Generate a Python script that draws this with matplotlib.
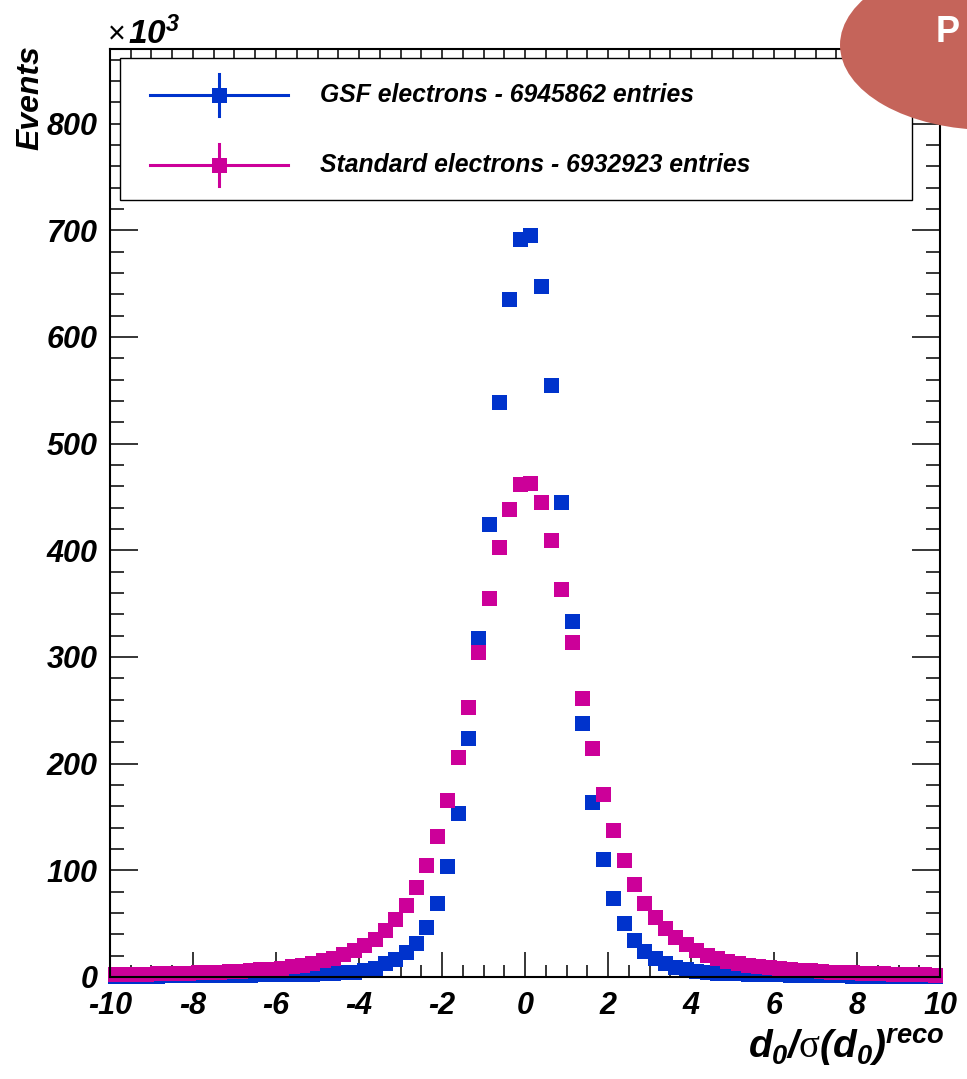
import matplotlib
matplotlib.use("Agg")
import matplotlib.pyplot as plt
import numpy as np
from matplotlib.patches import Ellipse, Rectangle
from matplotlib.ticker import MultipleLocator

# d0 significance, 80 bins from -10 to 10, counts in units of 10^3
bin_edges = np.linspace(-10, 10, 81)
gsf_counts_k = [
    1.0, 1.1, 1.2, 1.3, 1.4, 1.5, 1.6, 1.7, 1.8, 1.9,
    2.0, 2.1, 2.2, 2.3, 2.4, 2.5, 2.6, 2.7, 2.9, 3.1,
    3.4, 3.8, 4.3, 5.0, 6.8, 8.8, 12.7, 16.7, 23.7, 31.5,
    46.5, 69, 104, 154, 224, 318, 425, 539, 636, 692,
    696, 648, 555, 445, 334, 238, 164, 110.5, 74.5, 50.4,
    34.7, 24.4, 17.5, 13.3, 9.8, 7.5, 5.9, 4.8, 4.2, 3.7,
    3.3, 3.0, 2.8, 2.6, 2.4, 2.2, 2.0, 1.9, 1.8, 1.6,
    1.5, 1.4, 1.3, 1.2, 1.1, 1.0, 0.9, 0.8, 0.7, 0.6,
]
std_counts_k = [
    2.4, 2.6, 2.8, 3.0, 3.3, 3.5, 3.8, 4.1, 4.4, 4.7,
    5.1, 5.5, 6.0, 6.5, 7.1, 7.9, 8.9, 10.1, 11.6, 13.3,
    15.5, 18.0, 21.3, 25.4, 30, 36, 44, 54, 67.6, 84.5,
    105, 132, 166, 206, 253, 305, 355, 403, 439, 462,
    463, 445, 410, 364, 314, 262, 215, 172, 138, 110,
    87, 69, 56, 46, 37.6, 30.7, 25.4, 20.7, 17.6, 15.0,
    12.9, 11.4, 10.2, 9.2, 8.3, 7.5, 6.8, 6.2, 5.6, 5.1,
    4.7, 4.3, 4.0, 3.7, 3.4, 3.1, 2.9, 2.7, 2.5, 2.3,
]
series_labels = ["GSF electrons - 6945862 entries",
                 "Standard electrons - 6932923 entries"]
series_colors = ["#0033cc", "#cc0099"]

plt.rcParams["font.family"] = "Liberation Sans"
plt.rcParams["font.weight"] = "bold"
plt.rcParams["font.style"] = "italic"
plt.rcParams["axes.unicode_minus"] = False
plt.rcParams["mathtext.fontset"] = "custom"
plt.rcParams["mathtext.it"] = "Liberation Sans:style=italic:weight=bold"
plt.rcParams["mathtext.rm"] = "Liberation Sans:style=italic:weight=bold"
plt.rcParams["mathtext.bf"] = "Liberation Sans:style=italic:weight=bold"
plt.rcParams["mathtext.sf"] = "Liberation Serif:style=normal:weight=normal"

W, H = 967, 1079
fig = plt.figure(figsize=(W / 100, H / 100), dpi=100)
ax = fig.add_axes([110 / W, 1 - 977 / H, 830 / W, 928 / H])

centers = 0.5 * (bin_edges[:-1] + bin_edges[1:])
for counts, color in zip([gsf_counts_k, std_counts_k], series_colors):
    ax.plot(centers, counts, ls="none", marker="s", ms=10.8, mew=0,
            color=color, clip_on=False, zorder=2)

ax.set_xlim(-10, 10)
ax.set_ylim(0, 870)
ax.set_xticks(np.arange(-10, 11, 2))
ax.xaxis.set_minor_locator(MultipleLocator(0.5))
ax.set_yticks(np.arange(0, 801, 100))
ax.yaxis.set_minor_locator(MultipleLocator(20))
ax.tick_params(which="both", direction="in", top=True, right=True, width=1.1)
ax.tick_params(axis="x", which="major", length=18, pad=10, labelsize=22)
ax.tick_params(axis="x", which="minor", length=9)
ax.tick_params(axis="y", which="major", length=20, pad=9, labelsize=22)
ax.tick_params(axis="y", which="minor", length=10)
for sp in ax.spines.values():
    sp.set_linewidth(1.5)

# legend box drawn by hand, ROOT style
ax.add_patch(Rectangle((0.012, 0.837), 0.954, 0.153, transform=ax.transAxes,
                       facecolor="white", edgecolor="black", lw=1.0, zorder=5))
for ly, label, color in zip([0.950, 0.875], series_labels, series_colors):
    ax.plot([0.048, 0.2145], [ly, ly], transform=ax.transAxes, color=color,
            lw=2.2, zorder=6)
    ax.plot([0.131, 0.131], [ly - 0.0226, ly + 0.0226], transform=ax.transAxes,
            color=color, lw=2.2, zorder=6)
    ax.plot([0.131], [ly], transform=ax.transAxes, ls="none", marker="s",
            ms=10.8, mew=0, color=color, zorder=7)
    ax.text(0.253, ly, label, transform=ax.transAxes, fontsize=17.8,
            va="center", ha="left", zorder=7)

fig.text(30 / W, 1 - 45 / H, "Events", rotation=90, fontsize=23,
         ha="center", va="top")
fig.text(108 / W, 1 - 43 / H, "\u00d7", fontsize=22, style="normal",
         weight="normal", ha="left", va="baseline")
fig.text(128 / W, 1 - 44 / H, r"$10^{3}$", fontsize=24,
         ha="left", va="baseline")
fig.text(945 / W, 1 - 1048 / H,
         r"$d_{0}/\mathsf{\sigma}(d_{0})^{reco}$",
         fontsize=28, ha="right", va="center")

# badge in the top-right corner
fig.add_artist(Ellipse((990 / W, 1 - 45 / H), 300 / W, 170 / H,
                       transform=fig.transFigure, facecolor="#c5645a",
                       edgecolor="none", zorder=10))
fig.text(948 / W, 1 - 32 / H, "P", color="white", fontsize=26,
         style="normal", weight="bold", ha="center", va="center", zorder=11)

fig.savefig("out.png", dpi=100)
